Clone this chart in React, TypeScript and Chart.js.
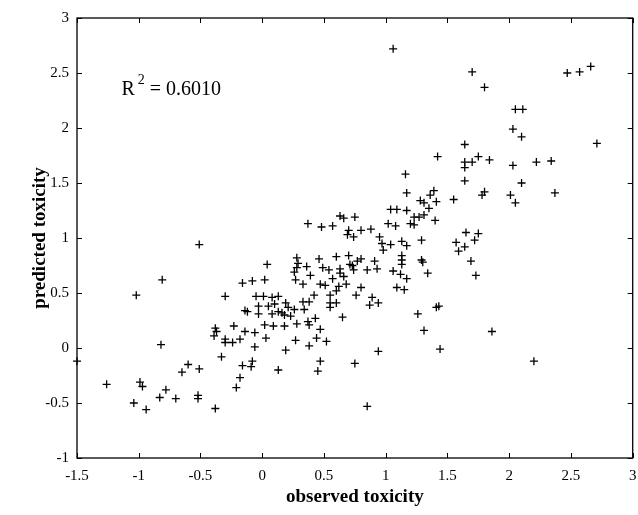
import React, { useEffect, useRef } from "react";
import { Chart, registerables } from "chart.js";

Chart.register(...registerables);

// observed toxicity (x) and predicted toxicity (y)
const observed = [
  1.06, 1.70, 1.80, 1.64, 1.42, 1.64, 1.64, 1.70, 1.75, 1.84,
  2.47, 2.57, 2.66, 2.05, 2.11, 2.03, 2.10, 2.71, 2.22, 2.34,
  2.03, 2.10, 2.01, 2.05, 2.37,
  -0.51, -0.81, -1.02, -0.82, -1.26, -0.99, -0.97, -1.04, -0.94, -0.78,
  -0.83, -0.70, -0.65, -0.60, -0.51, -0.52, -0.52, -0.38, -1.5,
  -0.21, -0.18, -0.33, -0.16, -0.09, -0.08, 0.13, 0.19, -0.06, -0.39,
  -0.37, -0.38, -0.30, -0.30, -0.24, -0.23, -0.18, -0.14, -0.06, 0.03,
  0.02, 0.09, 0.18, 0.28, 0.27, 0.38, 0.44, 0.52, 0.47, 0.37,
  0.38, 0.43, 0.47, 0.45, 0.65, 0.18, 0.23, -0.03, 0.08,
  0.75, 0.85, 0.94, 1.26, 1.31, 1.44, 1.86, 2.20,
  0.37, 0.48, 0.57, 0.63, 0.66, 0.70, 0.69, 0.04, -0.16, -0.08,
  0.02, -0.30, 0.28, 0.29, 0.28, 0.36, 0.26, 0.39, 0.27, 0.33,
  0.46, 0.49, 0.54, 0.60, 0.63, 0.70, 0.71, 0.63, 0.66, 0.57,
  0.47, 0.51, 0.68, 0.62, 0.60, 0.55, 0.42, -0.05, 0.01, 0.08,
  0.13, -0.03, 0.05, 0.10, 0.19, 0.13, 0.21, 0.26, 0.33, 0.34,
  0.38, 0.55, 0.60, 0.55, -0.12, -0.14, 0.16,
  1.16, 1.64, 1.17, 1.36, 1.39, 1.28, 1.31, 1.41, 1.55, 1.80,
  1.78, 1.04, 1.09, 1.17, 1.35, 1.23, 1.27, 1.31, 1.20, 1.23,
  1.40, 1.02, 1.08, 0.75, 0.80, 0.88, 0.74, 0.95, 0.97, 1.04,
  0.98, 1.13, 1.17, 1.29, 1.57, 1.59, 1.64, 1.65, 1.75, 1.72,
  1.69, 1.73, 1.13, 1.13, 1.13, 1.29, 1.30, 1.34, 1.06, 1.12,
  1.17, 1.09, 1.15, 0.73, 0.74, 0.77, 0.80, 0.91, 0.85, 0.93,
  0.80, 0.76, 0.89, 0.87, 0.94, 1.41, 1.43,
];
const predicted = [
  2.72, 2.51, 2.37, 1.85, 1.74, 1.69, 1.64, 1.69, 1.74, 1.71,
  2.50, 2.51, 2.56, 2.17, 2.17, 1.99, 1.92, 1.86, 1.69, 1.70,
  1.66, 1.50, 1.39, 1.32, 1.41,
  0.94, 0.62, 0.48, 0.03, -0.33, -0.31, -0.35, -0.50, -0.56, -0.38,
  -0.45, -0.46, -0.22, -0.15, -0.19, -0.43, -0.46, -0.55, -0.12,
  -0.36, -0.27, -0.08, -0.16, -0.17, -0.12, -0.20, -0.02, 0.01, 0.11,
  0.15, 0.18, 0.08, 0.05, 0.05, 0.20, 0.08, 0.15, 0.14, 0.09,
  0.21, 0.20, 0.20, 0.22, 0.07, 0.02, 0.09, 0.06, 0.17, 0.24,
  0.21, 0.27, -0.12, -0.21, 0.28, 0.30, 0.29, 0.31, 0.31,
  -0.14, -0.53, -0.03, 0.31, 0.16, -0.01, 0.15, -0.12,
  1.13, 1.10, 1.11, 1.20, 1.18, 1.07, 1.03, 0.76, 0.59, 0.61,
  0.62, 0.47, 0.82, 0.77, 0.73, 0.74, 0.69, 0.66, 0.62, 0.58,
  0.81, 0.73, 0.71, 0.83, 0.72, 0.84, 0.76, 0.68, 0.65, 0.63,
  0.58, 0.57, 0.58, 0.56, 0.52, 0.48, 0.48, 0.47, 0.47, 0.46,
  0.47, 0.38, 0.38, 0.40, 0.41, 0.33, 0.37, 0.35, 0.42, 0.35,
  0.42, 0.41, 0.41, 0.37, 0.33, 0.34, 0.32,
  1.58, 1.52, 1.41, 1.39, 1.43, 1.34, 1.32, 1.33, 1.35, 1.42,
  1.39, 1.26, 1.26, 1.25, 1.27, 1.19, 1.19, 1.21, 1.13, 1.12,
  1.16, 1.13, 1.11, 1.19, 1.07, 1.08, 1.01, 1.01, 0.95, 0.94,
  0.89, 0.97, 0.93, 0.98, 0.96, 0.88, 0.92, 1.05, 1.04, 0.98,
  0.79, 0.66, 0.84, 0.80, 0.76, 0.80, 0.78, 0.68, 0.70, 0.67,
  0.63, 0.55, 0.53, 0.75, 0.71, 0.79, 0.81, 0.79, 0.71, 0.72,
  0.55, 0.48, 0.46, 0.39, 0.41, 0.37, 0.38,
];

const xTicks = [-1.5, -1, -0.5, 0, 0.5, 1, 1.5, 2, 2.5, 3];
const yTicks = [-1, -0.5, 0, 0.5, 1, 1.5, 2, 2.5, 3];
const xTitle = "observed toxicity";
const yTitle = "predicted toxicity";
const r2Base = "R";
const r2Sup = "2";
const r2Rest = " = 0.6010";
const r2At = { x: -1.14, y: 2.35 };

const SERIF = "'Liberation Serif', 'Times New Roman', serif";

export default function App() {
  const ref = useRef<HTMLCanvasElement>(null);

  useEffect(() => {
    const framePlugin = {
      id: "frame",
      afterDatasetsDraw(chart: any) {
        const { ctx, chartArea: a, scales } = chart;
        const xs = scales.x;
        const ys = scales.y;
        ctx.save();
        ctx.strokeStyle = "#000";
        ctx.lineWidth = 1.3;
        ctx.strokeRect(a.left, a.top, a.right - a.left, a.bottom - a.top);
        ctx.lineWidth = 1;
        const tl = 5;
        ctx.beginPath();
        for (const v of xTicks) {
          const px = Math.round(xs.getPixelForValue(v)) + 0.5;
          ctx.moveTo(px, a.bottom);
          ctx.lineTo(px, a.bottom - tl);
          ctx.moveTo(px, a.top);
          ctx.lineTo(px, a.top + tl);
        }
        for (const v of yTicks) {
          const py = Math.round(ys.getPixelForValue(v)) + 0.5;
          ctx.moveTo(a.left, py);
          ctx.lineTo(a.left + tl, py);
          ctx.moveTo(a.right, py);
          ctx.lineTo(a.right - tl, py);
        }
        ctx.stroke();

        // R^2 annotation
        const tx = xs.getPixelForValue(r2At.x);
        const ty = ys.getPixelForValue(r2At.y);
        ctx.fillStyle = "#000";
        ctx.textBaseline = "middle";
        ctx.textAlign = "left";
        ctx.font = `20px ${SERIF}`;
        ctx.fillText(r2Base, tx, ty);
        let w = ctx.measureText(r2Base).width + 3;
        ctx.font = `14px ${SERIF}`;
        ctx.fillText(r2Sup, tx + w, ty - 9);
        w += ctx.measureText(r2Sup).width;
        ctx.font = `20px ${SERIF}`;
        ctx.fillText(r2Rest, tx + w, ty);
        ctx.restore();
      },
    };

    const chart = new Chart(ref.current as HTMLCanvasElement, {
      type: "scatter",
      data: {
        datasets: [
          {
            data: observed.map((x, i) => ({ x, y: predicted[i] })),
            pointStyle: "cross",
            radius: 4,
            borderColor: "#000",
            backgroundColor: "#000",
            borderWidth: 1.3,
            clip: false as any,
          } as any,
        ],
      },
      options: {
        animation: false,
        responsive: false,
        layout: { padding: { top: 18, right: 3, left: 0, bottom: 0 } },
        plugins: { legend: { display: false }, tooltip: { enabled: false } },
        scales: {
          x: {
            type: "linear",
            min: -1.5,
            max: 3,
            afterBuildTicks: (s: any) => {
              s.ticks = xTicks.map((v) => ({ value: v }));
            },
            afterFit: (s: any) => {
              s.height = 57;
              s.paddingLeft = 0;
              s.paddingRight = 0;
            },
            grid: { display: false, drawTicks: false, tickLength: 0 },
            border: { display: false },
            ticks: {
              color: "#000",
              padding: 9,
              maxRotation: 0,
              autoSkip: false,
              font: { family: SERIF, size: 15 },
              callback: (v: any) => String(v),
            },
            title: {
              display: true,
              text: xTitle,
              color: "#000",
              font: { family: SERIF, size: 19, weight: "bold" },
              padding: { top: 0, bottom: 7 },
            },
          },
          y: {
            type: "linear",
            min: -1,
            max: 3,
            afterBuildTicks: (s: any) => {
              s.ticks = yTicks.map((v) => ({ value: v }));
            },
            afterFit: (s: any) => {
              s.width = 77;
              s.paddingTop = 0;
              s.paddingBottom = 0;
            },
            grid: { display: false, drawTicks: false, tickLength: 0 },
            border: { display: false },
            ticks: {
              color: "#000",
              padding: 8,
              autoSkip: false,
              font: { family: SERIF, size: 15 },
              callback: (v: any) => String(v),
            },
            title: {
              display: true,
              text: yTitle,
              color: "#000",
              font: { family: SERIF, size: 19, weight: "bold" },
              padding: { top: 29, bottom: 0 },
            },
          },
        },
      },
      plugins: [framePlugin],
    });
    return () => chart.destroy();
  }, []);

  return (
    <div style={{ position: "fixed", left: 0, top: 0, width: 638, height: 515, background: "#fff" }}>
      <canvas ref={ref} width={638} height={515} style={{ display: "block", width: 638, height: 515 }} />
    </div>
  );
}
